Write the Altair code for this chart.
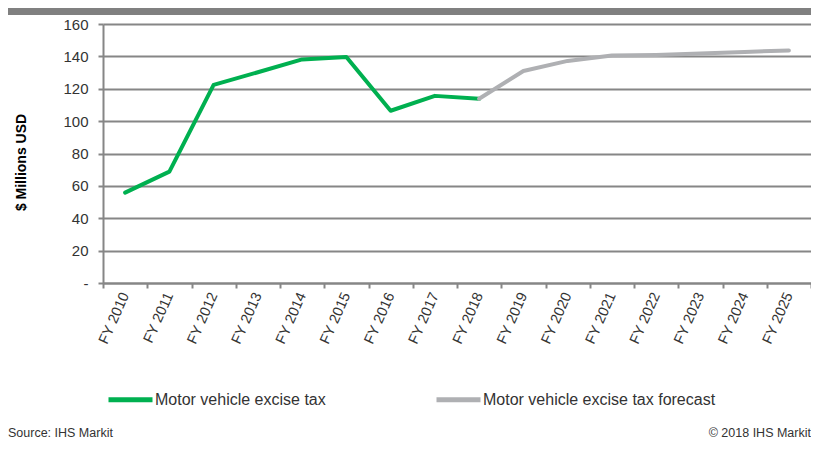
import altair as alt
import pandas as pd

years = ["FY 2010", "FY 2011", "FY 2012", "FY 2013", "FY 2014", "FY 2015", "FY 2016", "FY 2017",
         "FY 2018", "FY 2019", "FY 2020", "FY 2021", "FY 2022", "FY 2023", "FY 2024", "FY 2025"]
actual_years = years[:9]
actual_values = [55.8, 68.8, 122.4, 130.2, 138.1, 139.6, 106.4, 115.6, 113.8]
forecast_years = years[8:]
forecast_values = [113.8, 131.0, 137.2, 140.5, 140.8, 141.7, 142.7, 143.7]
series_names = ["Motor vehicle excise tax", "Motor vehicle excise tax forecast"]
series_colors = ["#00B050", "#AFB0B3"]
y_ticks = [0, 20, 40, 60, 80, 100, 120, 140, 160]

rows = [{"year": y, "value": v, "series": series_names[0]} for y, v in zip(actual_years, actual_values)]
rows += [{"year": y, "value": v, "series": series_names[1]} for y, v in zip(forecast_years, forecast_values)]
df = pd.DataFrame(rows)

FONT = "Liberation Sans, Arial, sans-serif"
GRID = "#868686"
TEXT = "#333333"

lines = alt.Chart(df).mark_line(strokeWidth=4, strokeCap="round", strokeJoin="round").encode(
    x=alt.X("year:O", sort=years,
            scale=alt.Scale(type="band", domain=years, paddingInner=0, paddingOuter=0),
            axis=alt.Axis(title=None, labelAngle=-66, labelAlign="right", labelBaseline="middle",
                          labelFontSize=14.5, labelColor=TEXT, labelPadding=5, tickBand="extent",
                          tickSize=5, tickColor=GRID, tickWidth=2, domainColor=GRID, domainWidth=2,
                          grid=False)),
    y=alt.Y("value:Q",
            scale=alt.Scale(domain=[0, 160], nice=False, zero=True),
            axis=alt.Axis(values=y_ticks, title="$ Millions  USD", titleFontSize=14,
                          titleFontWeight="bold", titleColor="#000000", titleAngle=-90,
                          titleX=-82, titleY=138, titleAlign="center", titleBaseline="middle",
                          labelExpr="datum.value == 0 ? '- ' : datum.label",
                          labelFontSize=15, labelColor=TEXT, labelPadding=10,
                          tickSize=5, tickColor=GRID, tickWidth=2, domainColor=GRID, domainWidth=2,
                          grid=True, gridColor=GRID, gridWidth=2)),
    color=alt.Color("series:N",
                    scale=alt.Scale(domain=series_names, range=series_colors),
                    legend=alt.Legend(title=None, orient="none", direction="horizontal",
                                      legendX=3, legendY=351, symbolType="stroke",
                                      symbolSize=1936, symbolStrokeWidth=5, labelOffset=0,
                                      labelFontSize=16, labelColor=TEXT, columnPadding=100,
                                      labelLimit=400)),
)

top_bar = alt.Chart(pd.DataFrame({"k": [0]})).mark_rule(color="#808080", strokeWidth=7).encode(
    x=alt.value(-95), x2=alt.value(708), y=alt.value(-12.5)
)

source = alt.Chart(pd.DataFrame({"t": ["Source: IHS Markit"]})).mark_text(
    align="left", baseline="alphabetic", fontSize=12.5, color=TEXT, font=FONT
).encode(x=alt.value(-95), y=alt.value(413), text="t:N")

copyright_ = alt.Chart(pd.DataFrame({"t": ["© 2018 IHS Markit"]})).mark_text(
    align="right", baseline="alphabetic", fontSize=12.5, color=TEXT, font=FONT
).encode(x=alt.value(708), y=alt.value(413), text="t:N")

chart = alt.layer(top_bar, lines, source, copyright_).properties(
    width=708, height=259,
    autosize=alt.AutoSizeParams(type="none"),
    padding={"left": 95, "top": 16, "right": 0, "bottom": 158},
).configure(font=FONT).configure_view(stroke=None)

chart.save("out.html", embed_options={"renderer": "svg", "actions": False})
